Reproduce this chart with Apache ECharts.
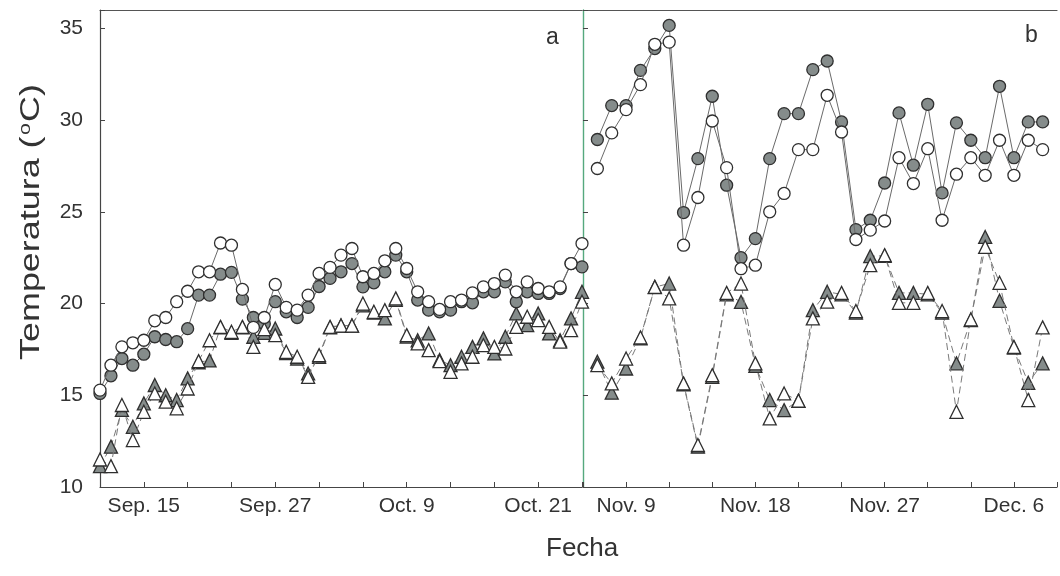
<!DOCTYPE html>
<html>
<head>
<meta charset="utf-8">
<script src="https://cdn.jsdelivr.net/npm/echarts@6/dist/echarts.min.js"></script>
<style>
html, body { margin: 0; padding: 0; background: #fff; }
#chart { width: 1060px; height: 576px; }
</style>
</head>
<body>
<div id="chart"></div>
<script>
// panel a: one value per day from Sep. 11 (day 0) to Oct. 25 (day 44)
var filledCircA = [15.1, 16.06, 17.0, 16.64, 17.24, 18.19, 18.04, 17.92, 18.63, 20.46, 20.46, 21.6, 21.7, 20.24, 19.24, 18.9, 20.1, 19.55, 19.24, 19.79, 20.93, 21.37, 21.73, 22.18, 20.91, 21.13, 21.73, 22.64, 21.73, 20.19, 19.64, 19.55, 19.64, 20.1, 20.04, 20.64, 20.64, 21.18, 20.1, 20.64, 20.55, 20.55, 20.82, 22.18, 22.0];
var openCircA = [15.28, 16.64, 17.64, 17.86, 18.0, 19.06, 19.24, 20.1, 20.67, 21.73, 21.73, 23.3, 23.18, 20.77, 18.7, 19.24, 21.04, 19.79, 19.64, 20.46, 21.64, 21.97, 22.64, 23.0, 21.46, 21.64, 22.33, 23.0, 21.91, 20.64, 20.1, 19.68, 20.1, 20.19, 20.58, 20.91, 21.09, 21.55, 20.64, 21.18, 20.82, 20.64, 20.91, 22.18, 23.27];
var filledTriA = [11.14, 12.2, 14.2, 13.28, 14.56, 15.56, 15.0, 14.74, 15.92, 16.8, 16.9, 18.7, 18.4, 18.7, 18.19, 18.4, 18.64, 17.3, 17.0, 16.19, 17.1, 18.7, 18.8, 18.8, 19.9, 19.5, 19.19, 20.2, 18.2, 18.0, 18.37, 16.92, 16.64, 17.1, 17.64, 18.1, 17.28, 18.19, 19.46, 18.82, 19.46, 18.37, 18.0, 19.19, 20.64];
var openTriA = [11.5, 11.14, 14.47, 12.56, 14.1, 15.1, 14.65, 14.29, 15.37, 16.86, 18.0, 18.73, 18.46, 18.73, 17.64, 18.6, 18.28, 17.37, 17.1, 16.0, 17.19, 18.73, 18.8, 18.8, 20.0, 19.55, 19.64, 20.28, 18.28, 17.83, 17.46, 16.86, 16.28, 16.74, 17.1, 17.73, 17.64, 17.55, 18.73, 19.28, 19.1, 18.73, 17.92, 18.55, 20.1];

// panel b: one value per day from Nov. 7 (day 1) to Dec. 8 (day 32), day 0 = Nov. 6
var filledCircB = [28.94, 30.79, 30.79, 32.71, 33.9, 35.16, 24.96, 27.9, 31.3, 26.45, 22.5, 23.54, 27.9, 30.35, 30.35, 32.75, 33.22, 29.9, 24.03, 24.54, 26.57, 30.39, 27.54, 30.86, 26.03, 29.85, 28.9, 27.95, 31.84, 27.95, 29.9, 29.9];
var openCircB = [27.36, 29.3, 30.57, 31.93, 34.13, 34.25, 23.18, 25.78, 29.95, 27.41, 21.9, 22.09, 25.0, 26.0, 28.39, 28.39, 31.35, 29.35, 23.49, 24.0, 24.5, 27.95, 26.54, 28.44, 24.54, 27.05, 27.95, 26.99, 28.9, 26.99, 28.9, 28.39];
var filledTriB = [16.83, 15.14, 16.46, 18.1, 20.9, 21.09, 15.6, 12.2, 16.0, 20.5, 20.09, 16.6, 14.74, 14.19, 14.7, 19.64, 20.64, 20.5, 19.5, 22.58, 22.6, 20.58, 20.58, 20.5, 19.5, 16.74, 19.1, 23.63, 20.15, 17.6, 15.68, 16.74];
var openTriB = [16.64, 15.65, 17.0, 18.15, 20.91, 20.28, 15.65, 12.29, 16.1, 20.58, 21.09, 16.74, 13.74, 15.1, 14.7, 19.19, 20.1, 20.58, 19.59, 22.09, 22.64, 20.04, 20.04, 20.58, 19.59, 14.1, 19.13, 23.09, 21.13, 17.64, 14.74, 18.7];

var startA = 0;
var startB = 1;

// tick labels
var labelDaysA = [4, 16, 28, 40];
var labelTextA = ['Sep. 15', 'Sep. 27', 'Oct. 9', 'Oct. 21'];
var labelDaysB = [3, 12, 21, 30];
var labelTextB = ['Nov. 9', 'Nov. 18', 'Nov. 27', 'Dec. 6'];

var font = 'Liberation Sans, Arial, sans-serif';
var axisColor = '#454545';

function pts(values, start) {
    var out = [];
    for (var i = 0; i < values.length; i++) {
        out.push([start + i, values[i]]);
    }
    return out;
}

function lookup(days, texts) {
    return function (v) {
        var k = days.indexOf(Math.round(v));
        return k >= 0 ? texts[k] : '';
    };
}

function serie(idx, values, start, kind) {
    var tri = kind == 'ft' || kind == 'ot';
    var filled = kind == 'fc' || kind == 'ft';
    return {
        type: 'line',
        xAxisIndex: idx,
        yAxisIndex: idx,
        data: pts(values, start),
        symbol: tri ? 'triangle' : 'circle',
        symbolSize: tri ? 13 : 12,
        z: filled ? 2 : 3,
        silent: true,
        animation: false,
        lineStyle: {
            color: tri ? '#7a7a7a' : '#6a6a6a',
            width: 1,
            type: tri ? [7, 4] : 'solid'
        },
        itemStyle: {
            color: filled ? '#858c8b' : '#ffffff',
            borderColor: '#2f2f2f',
            borderWidth: 1.3
        }
    };
}

var chart = echarts.init(document.getElementById('chart'));

var yBase = {
    type: 'value',
    min: 10,
    max: 36,
    interval: 5,
    splitLine: { show: false },
    axisTick: { show: true, inside: true, length: 5, lineStyle: { color: axisColor } }
};

var tickFont = { fontSize: 21, color: '#333', fontFamily: font };

var option = {
    backgroundColor: '#ffffff',
    animation: false,
    grid: [
        { left: 100, right: 478, top: 10, bottom: 89 },
        { left: 583, right: -7, top: 10, bottom: 89 }
    ],
    xAxis: [
        {
            gridIndex: 0, type: 'value', min: 0, max: 44, interval: 4,
            splitLine: { show: false },
            axisLine: { show: true, onZero: false, lineStyle: { color: axisColor, width: 1.2 } },
            axisTick: { show: true, inside: true, length: 5, lineStyle: { color: axisColor } },
            axisLabel: Object.assign({ formatter: lookup(labelDaysA, labelTextA), margin: 9 }, tickFont)
        },
        {
            gridIndex: 1, type: 'value', min: 0, max: 33, interval: 3,
            splitLine: { show: false },
            axisLine: { show: true, onZero: false, lineStyle: { color: axisColor, width: 1.2 } },
            axisTick: { show: true, inside: true, length: 5, lineStyle: { color: axisColor } },
            axisLabel: Object.assign({ formatter: lookup(labelDaysB, labelTextB), margin: 9 }, tickFont)
        },
        // top borders
        {
            gridIndex: 0, type: 'value', position: 'top', min: 0, max: 44,
            splitLine: { show: false }, axisTick: { show: false }, axisLabel: { show: false },
            axisLine: { show: true, onZero: false, lineStyle: { color: '#555', width: 1.2 } }
        },
        {
            gridIndex: 1, type: 'value', position: 'top', min: 0, max: 33,
            splitLine: { show: false }, axisTick: { show: false }, axisLabel: { show: false },
            axisLine: { show: true, onZero: false, lineStyle: { color: '#555', width: 1.2 } }
        }
    ],
    yAxis: [
        Object.assign({}, yBase, {
            gridIndex: 0,
            axisLine: { show: true, onZero: false, lineStyle: { color: axisColor, width: 1.2 } },
            axisLabel: Object.assign({
                margin: 17,
                formatter: function (v) { return v % 5 == 0 ? String(v) : ''; }
            }, tickFont)
        }),
        Object.assign({}, yBase, {
            gridIndex: 1,
            axisLine: { show: true, onZero: false, lineStyle: { color: '#55a97e', width: 1.4 } },
            axisLabel: { show: false }
        })
    ],
    graphic: [
        { type: 'text', left: 546, top: 26, style: { text: 'a', font: '23px ' + font, fill: '#333' } },
        { type: 'text', left: 1025, top: 24, style: { text: 'b', font: '23px ' + font, fill: '#333' } },
        { type: 'text', left: 546, top: 536, style: { text: 'Fecha', font: '26px ' + font, fill: '#333' } },
        {
            type: 'text', x: 32, y: 222, rotation: Math.PI / 2, scaleX: 1.33,
            style: {
                text: 'Temperatura ({sup|o}C)',
                font: '27px ' + font, fill: '#333',
                align: 'center', verticalAlign: 'middle',
                rich: { sup: { fontSize: 16, fill: '#333', fontFamily: font, verticalAlign: 'bottom', padding: [0, 1, 13, 1] } }
            }
        }
    ],
    series: [
        serie(0, filledTriA, startA, 'ft'),
        serie(0, openTriA, startA, 'ot'),
        serie(0, filledCircA, startA, 'fc'),
        serie(0, openCircA, startA, 'oc'),
        serie(1, filledTriB, startB, 'ft'),
        serie(1, openTriB, startB, 'ot'),
        serie(1, filledCircB, startB, 'fc'),
        serie(1, openCircB, startB, 'oc')
    ]
};

option && chart.setOption(option);
</script>
</body>
</html>
